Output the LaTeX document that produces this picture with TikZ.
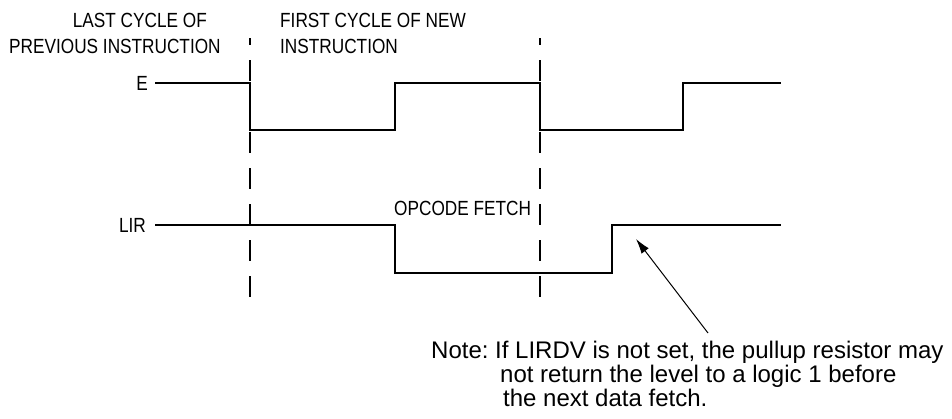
\documentclass[tikz,border=0pt]{standalone}
\usepackage{fontspec}
\setmainfont{Liberation Sans}
\newfontfamily\narrowfont[FakeStretch=0.84]{Liberation Sans}
\usetikzlibrary{arrows.meta}
\frenchspacing
\tikzset{
  sig/.style={line width=2.8pt, line join=miter},
  cycleline/.style={line width=2.2pt, dash pattern=on 21pt off 15pt, dash phase=14pt},
  lbl/.style={inner sep=0pt, font=\narrowfont\fontsize{20.5}{23}\selectfont},
  notetext/.style={inner sep=0pt, font=\fontsize{24}{25}\selectfont},
  pointer/.style={line width=1pt, -{Latex[length=15pt,width=9pt]}}
}
\begin{document}
\begin{tikzpicture}[x=1pt,y=-1pt]
\useasboundingbox (0,0) rectangle (952,418);
% cycle boundary lines
\coordinate (d1t) at (250,38); \coordinate (d1b) at (250,298);
\coordinate (d2t) at (540,38); \coordinate (d2b) at (540,298);
\draw[cycleline] (d1t) -- (d1b);
\draw[cycleline] (d2t) -- (d2b);
% header labels
\node[lbl, anchor=base east] (last) at (207,27) {LAST CYCLE OF};
\node[lbl, anchor=base west] (prev) at (9,53) {PREVIOUS INSTRUCTION};
\node[lbl, anchor=base west] (first) at (280,27) {FIRST CYCLE OF NEW};
\node[lbl, anchor=base west] (instr) at (280,53) {INSTRUCTION};
% E signal
\node[lbl, anchor=east] (E) at (148,83) {E};
\coordinate (e0) at (155,83);
\coordinate (e1) at (250,83); \coordinate (e2) at (250,130);
\coordinate (e3) at (395,130); \coordinate (e4) at (395,83);
\coordinate (e5) at (540,83); \coordinate (e6) at (540,130);
\coordinate (e7) at (683,130); \coordinate (e8) at (683,83);
\coordinate (e9) at (781,83);
\draw[sig] (e0) -- (e1) -- (e2) -- (e3) -- (e4) -- (e5) -- (e6) -- (e7) -- (e8) -- (e9);
% LIR signal
\node[lbl, anchor=east] (LIR) at (146,225) {LIR};
\coordinate (l0) at (155,225);
\coordinate (l1) at (395,225); \coordinate (l2) at (395,273);
\coordinate (l3) at (612,273); \coordinate (l4) at (612,225);
\coordinate (l5) at (781,225);
\draw[sig] (l0) -- (l1) -- (l2) -- (l3) -- (l4) -- (l5);
\node[lbl, anchor=base west] (opf) at (394,215) {OPCODE FETCH};
% note
\node[notetext, anchor=base west] (note1) at (431,358) {Note: If LIRDV is not set, the pullup resistor may};
\node[notetext, anchor=base west] (note2) at (500,382) {not return the level to a logic 1 before};
\node[notetext, anchor=base west] (note3) at (503,406) {the next data fetch.};
\coordinate (ptrstart) at (708,333);
\coordinate (ptrtip) at (636,239);
\draw[pointer] (ptrstart) -- (ptrtip);
\end{tikzpicture}
\end{document}
